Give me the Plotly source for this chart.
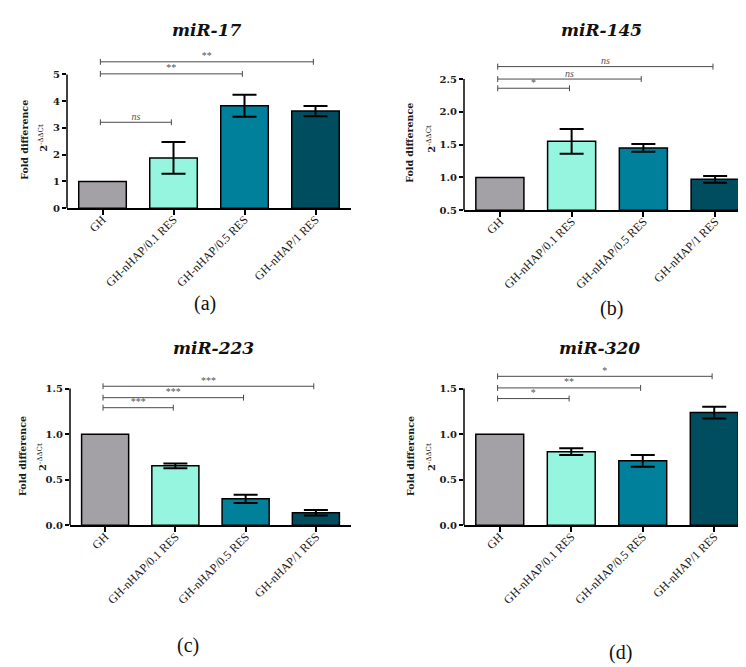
import plotly.graph_objects as go

# ---------------- data ----------------
categories = ["GH", "GH-nHAP/0.1 RES", "GH-nHAP/0.5 RES", "GH-nHAP/1 RES"]
bar_colors = ["#a3a1a6", "#95f5de", "#00809a", "#004d60"]

titles = ["miR-17", "miR-145", "miR-223", "miR-320"]
panel_labels = ["(a)", "(b)", "(c)", "(d)"]

mir17_mean = [1.0, 1.88, 3.83, 3.63]
mir17_err = [0.0, 0.59, 0.41, 0.19]
mir145_mean = [1.0, 1.55, 1.45, 0.97]
mir145_err = [0.0, 0.19, 0.06, 0.05]
mir223_mean = [1.0, 0.652, 0.29, 0.138]
mir223_err = [0.0, 0.025, 0.045, 0.03]
mir320_mean = [1.0, 0.808, 0.707, 1.236]
mir320_err = [0.0, 0.038, 0.065, 0.065]

# significance brackets: (from index, to index, y value, label)
mir17_sig = [(0, 1, 3.21, "ns"), (0, 2, 5.02, "**"), (0, 3, 5.47, "**")]
mir145_sig = [(0, 1, 2.36, "*"), (0, 2, 2.50, "ns"), (0, 3, 2.69, "ns")]
mir223_sig = [(0, 1, 1.29, "***"), (0, 2, 1.40, "***"), (0, 3, 1.525, "***")]
mir320_sig = [(0, 1, 1.39, "*"), (0, 2, 1.507, "**"), (0, 3, 1.634, "*")]

ticks_a = [0, 1, 2, 3, 4, 5]
ticklabels_a = ["0", "1", "2", "3", "4", "5"]
ticks_b = [0.5, 1.0, 1.5, 2.0, 2.5]
ticklabels_b = ["0.5", "1.0", "1.5", "2.0", "2.5"]
ticks_cd = [0.0, 0.5, 1.0, 1.5]
ticklabels_cd = ["0.0", "0.5", "1.0", "1.5"]

means = [mir17_mean, mir145_mean, mir223_mean, mir320_mean]
errs = [mir17_err, mir145_err, mir223_err, mir320_err]
sigs = [mir17_sig, mir145_sig, mir223_sig, mir320_sig]
tickvals = [ticks_a, ticks_b, ticks_cd, ticks_cd]
ticktexts = [ticklabels_a, ticklabels_b, ticklabels_cd, ticklabels_cd]

# ---------------- geometry (pixels) ----------------
W, H = 746, 667
# left, right, bottom_px, toptick_px, ymin, ytoptick, domain_top_px
geom = [
    (59, 343, 202, 67, 0.0, 5.0, 42),
    (456, 743, 204, 71.7, 0.5, 2.5, 45),
    (62, 343, 522, 384, 0.0, 1.5, 362),
    (456, 742, 522, 384, 0.0, 1.5, 355),
]
title_pos = [(198, 22), (593, 22), (205, 343), (591, 343)]
label_pos = [(197, 298), (603, 303), (180, 643), (612, 650)]
ytitle1_pos = [(17, 133), (402, 136), (15, 452), (403, 452)]
ytitle2_pos = [(35, 131), (423, 132), (34, 453), (423, 453)]


def px(x):
    return x / W


def py(y):
    return 1 - y / H


SERIF = "Liberation Serif, serif"
BSERIF = "DejaVu Serif, serif"
fig = go.Figure()
layout = dict(
    width=W, height=H,
    margin=dict(l=0, r=0, t=0, b=0),
    paper_bgcolor="white", plot_bgcolor="white",
    showlegend=False,
    font=dict(family=SERIF, color="#1a1a1a"),
)
annotations = []
shapes = []

for i in range(4):
    left, right, bpx, tpx, ymin, ytop, dtop = geom[i]
    scale = (bpx - tpx) / (ytop - ymin)
    yrange_top = ymin + (bpx - dtop) / scale
    sfx = "" if i == 0 else str(i + 1)
    xa, ya = "x" + sfx, "y" + sfx

    layout["xaxis" + sfx] = dict(
        domain=[px(left), px(right)], anchor=ya,
        range=[-0.5, 3.5], tickmode="array", tickvals=[0, 1, 2, 3],
        ticktext=categories, tickangle=-45,
        showline=True, linecolor="black", linewidth=1.5,
        ticks="outside", ticklen=5, tickwidth=1.5, tickcolor="black",
        ticklabelstandoff=-7,
        tickfont=dict(family=SERIF, size=12, color="#1a1a1a"),
        showgrid=False, zeroline=False, fixedrange=True,
    )
    layout["yaxis" + sfx] = dict(
        domain=[py(bpx), py(dtop)], anchor=xa,
        range=[ymin, yrange_top], tickmode="array",
        tickvals=tickvals[i], ticktext=ticktexts[i],
        showline=False, ticks="outside", ticklen=4, tickwidth=1.5,
        tickcolor="black",
        tickfont=dict(family=BSERIF, size=10, color="#1a1a1a", weight="bold"),
        showgrid=False, zeroline=False, fixedrange=True,
    )
    # y axis line only up to the top tick
    shapes.append(dict(type="line", xref=xa + " domain", yref=ya,
                       x0=0, x1=0, y0=ymin, y1=ytop,
                       line=dict(color="black", width=1.5)))

    base = ymin
    fig.add_trace(go.Bar(
        x=[0, 1, 2, 3], y=[m - base for m in means[i]], base=base,
        width=0.67, xaxis=xa, yaxis=ya,
        marker=dict(color=bar_colors, line=dict(color="black", width=1.5)),
        hoverinfo="skip",
    ))
    # error bars (only for groups with a spread)
    ex = [k for k in range(4) if errs[i][k] > 0]
    fig.add_trace(go.Scatter(
        x=ex, y=[means[i][k] for k in ex], mode="markers",
        marker=dict(size=1, color="black"), xaxis=xa, yaxis=ya,
        error_y=dict(type="data", array=[errs[i][k] for k in ex],
                     visible=True, color="black", thickness=2, width=12),
        hoverinfo="skip",
    ))

    # significance brackets
    cap = 3.0 / scale
    lx, ly = [], []
    tx, tyv, tt = [], [], []
    for (a, b, yv, lab) in sigs[i]:
        x0, x1 = a - 0.03, b - 0.03
        lx += [x0, x1, None, x0, x0, None, x1, x1, None]
        ly += [yv, yv, None, yv - cap, yv + cap, None, yv - cap, yv + cap, None]
        tx.append((x0 + x1) / 2)
        tyv.append(yv)
        tt.append("<i>ns</i>" if lab == "ns" else lab)
    fig.add_trace(go.Scatter(
        x=lx, y=ly, mode="lines", xaxis=xa, yaxis=ya,
        line=dict(color="#4a4a4a", width=1), hoverinfo="skip",
    ))
    fig.add_trace(go.Scatter(
        x=tx, y=tyv, mode="text", text=tt, textposition="top center",
        xaxis=xa, yaxis=ya, cliponaxis=False,
        textfont=dict(family=SERIF, size=10, color="#555555"),
        hoverinfo="skip",
    ))

    # titles and labels
    annotations.append(dict(
        text="<b><i>" + titles[i] + "</i></b>", x=px(title_pos[i][0]),
        y=py(title_pos[i][1]), xref="paper", yref="paper", showarrow=False,
        xanchor="center", yanchor="middle",
        font=dict(family=BSERIF, size=17, color="#111111"),
    ))
    annotations.append(dict(
        text=panel_labels[i], x=px(label_pos[i][0]), y=py(label_pos[i][1]),
        xref="paper", yref="paper", showarrow=False,
        xanchor="center", yanchor="middle",
        font=dict(family=SERIF, size=20, color="#111111"),
    ))
    annotations.append(dict(
        text="<b>Fold difference</b>", x=px(ytitle1_pos[i][0]),
        y=py(ytitle1_pos[i][1]), xref="paper", yref="paper",
        showarrow=False, textangle=-90, xanchor="center", yanchor="middle",
        font=dict(family=BSERIF, size=9.5, color="#1a1a1a"),
    ))
    annotations.append(dict(
        text="<b>2</b><sup>-ΔΔCt</sup>", x=px(ytitle2_pos[i][0]),
        y=py(ytitle2_pos[i][1]), xref="paper", yref="paper",
        showarrow=False, textangle=-90, xanchor="center", yanchor="middle",
        font=dict(family=BSERIF, size=10, color="#1a1a1a"),
    ))

layout["annotations"] = annotations
layout["shapes"] = shapes
fig.update_layout(**layout)
fig.write_html("out.html")
